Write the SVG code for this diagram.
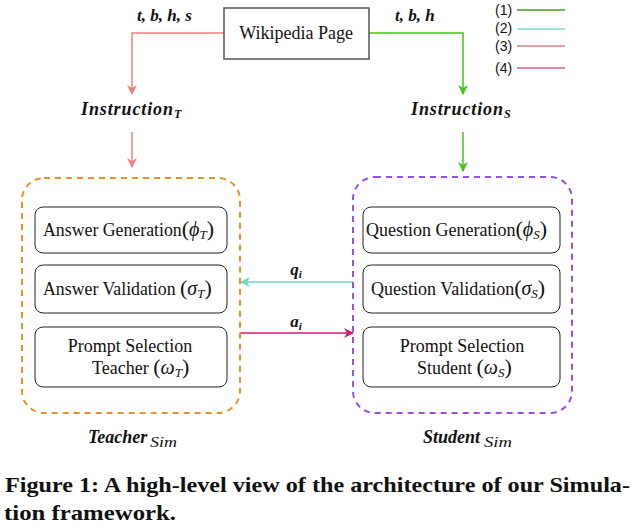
<svg xmlns="http://www.w3.org/2000/svg" width="638" height="529" viewBox="0 0 638 529">
<style>
.t{font-family:"Liberation Serif","Times New Roman",serif;fill:#111}
.m{font-family:"Liberation Serif","Times New Roman",serif;font-style:italic;fill:#111}
.mb{font-family:"Liberation Serif","Times New Roman",serif;font-style:italic;font-weight:bold;fill:#111}
.box{fill:#fff;stroke:#222;stroke-width:1}
.lg{font-family:"Liberation Sans",Arial,sans-serif;font-size:14px;fill:#111}
.cap{font-family:"Liberation Serif","Times New Roman",serif;font-weight:bold;font-size:21px;fill:#111}
</style>
<defs>
<marker id="ar" markerUnits="userSpaceOnUse" markerWidth="10" markerHeight="10" refX="9" refY="5" orient="auto"><path d="M0,0 L10,5 L0,10 L3,5 z" fill="#f08080"/></marker>
<marker id="ag" markerUnits="userSpaceOnUse" markerWidth="10" markerHeight="10" refX="9" refY="5" orient="auto"><path d="M0,0 L10,5 L0,10 L3,5 z" fill="#44c21a"/></marker>
<marker id="at" markerUnits="userSpaceOnUse" markerWidth="10" markerHeight="10" refX="9" refY="5" orient="auto"><path d="M0,0 L10,5 L0,10 L3,5 z" fill="#6ed8bd"/></marker>
<marker id="am" markerUnits="userSpaceOnUse" markerWidth="10" markerHeight="10" refX="9" refY="5" orient="auto"><path d="M0,0 L10,5 L0,10 L3,5 z" fill="#d81b77"/></marker>
</defs>
<rect width="638" height="529" fill="#fff"/>

<g id="connectors" fill="none" stroke-width="1.5">
<path d="M224,33 H132 V94" stroke="#f08080" marker-end="url(#ar)"/>
<path d="M132,132 V167" stroke="#f08080" marker-end="url(#ar)"/>
<path d="M369,33 H463 V94" stroke="#44c21a" marker-end="url(#ag)"/>
<path d="M463,132 V171" stroke="#44c21a" marker-end="url(#ag)"/>
<path d="M353,282 H241" stroke="#6ed8bd" marker-end="url(#at)"/>
<path d="M240,333 H353" stroke="#d81b77" marker-end="url(#am)"/>
<text class="mb" x="137" y="21" font-size="17" stroke="none">t, b, h, s</text>
<text class="mb" x="395" y="21" font-size="17" stroke="none">t, b, h</text>
<text class="mb" x="296" y="275" font-size="17" text-anchor="middle" stroke="none">q<tspan font-size="11" dy="3">i</tspan></text>
<text class="mb" x="296" y="327" font-size="17" text-anchor="middle" stroke="none">a<tspan font-size="11" dy="3">i</tspan></text>
</g>

<g id="wikipedia">
<rect x="224" y="8" width="145" height="51" fill="#fff" stroke="#555" stroke-width="1.5"/>
<text class="t" x="296" y="39" font-size="18" text-anchor="middle">Wikipedia Page</text>
</g>

<g id="legend">
<text class="lg" x="495" y="15">(1)</text>
<text class="lg" x="495" y="33">(2)</text>
<text class="lg" x="495" y="51">(3)</text>
<text class="lg" x="495" y="73">(4)</text>
<line x1="517" y1="10" x2="565" y2="10" stroke="#4a9a1e" stroke-width="1.5"/>
<line x1="517" y1="29" x2="565" y2="29" stroke="#7de0c8" stroke-width="1.5"/>
<line x1="517" y1="46" x2="565" y2="46" stroke="#d88080" stroke-width="1.5"/>
<line x1="517" y1="68" x2="565" y2="68" stroke="#d060a8" stroke-width="1.5"/>
</g>

<g id="instruction-t">
<text class="mb" x="81" y="115" font-size="18" textLength="92" lengthAdjust="spacing">Instruction</text>
<text class="mb" x="174" y="118" font-size="12">T</text>
</g>
<g id="instruction-s">
<text class="mb" x="411" y="115" font-size="18" textLength="92" lengthAdjust="spacing">Instruction</text>
<text class="mb" x="504" y="118" font-size="12">S</text>
</g>

<g id="teacher">
<rect x="22" y="178" width="218" height="235" rx="22" fill="none" stroke="#e8922a" stroke-width="2" stroke-dasharray="6,5"/>
<text class="mb" x="88" y="443" font-size="18">Teacher</text>
<text class="m" x="150" y="447" font-size="14" textLength="27" lengthAdjust="spacingAndGlyphs">Sim</text>
</g>
<g id="answer-generation">
<rect class="box" x="35" y="207" width="192" height="46" rx="8"/>
<text class="t" x="43" y="236" font-size="17.8">Answer Generation<tspan font-size="22">(</tspan><tspan class="m" font-size="20">ϕ</tspan><tspan class="m" font-size="13" dy="3">T</tspan><tspan font-size="22" dy="-3">)</tspan></text>
</g>
<g id="answer-validation">
<rect class="box" x="35" y="265" width="192" height="48" rx="8"/>
<text class="t" x="43" y="295" font-size="17.8">Answer Validation <tspan font-size="22">(</tspan><tspan class="m" font-size="20">σ</tspan><tspan class="m" font-size="13" dy="3">T</tspan><tspan font-size="22" dy="-3">)</tspan></text>
</g>
<g id="prompt-teacher">
<rect class="box" x="35" y="327" width="192" height="60" rx="8"/>
<text class="t" x="130" y="352" font-size="18" text-anchor="middle">Prompt Selection</text>
<text class="t" x="92" y="374" font-size="18">Teacher <tspan font-size="22">(</tspan><tspan class="m" font-size="20">ω</tspan><tspan class="m" font-size="13" dy="3">T</tspan><tspan font-size="22" dy="-3">)</tspan></text>
</g>

<g id="student">
<rect x="353" y="177" width="219" height="236" rx="22" fill="none" stroke="#9a4de8" stroke-width="2" stroke-dasharray="6,5"/>
<text class="mb" x="423" y="443" font-size="18">Student</text>
<text class="m" x="484" y="447" font-size="14" textLength="28" lengthAdjust="spacingAndGlyphs">Sim</text>
</g>
<g id="question-generation">
<rect class="box" x="363" y="207" width="197" height="46" rx="8"/>
<text class="t" x="366" y="236" font-size="18">Question Generation<tspan font-size="22">(</tspan><tspan class="m" font-size="20">ϕ</tspan><tspan class="m" font-size="13" dy="3">S</tspan><tspan font-size="22" dy="-3">)</tspan></text>
</g>
<g id="question-validation">
<rect class="box" x="363" y="265" width="197" height="48" rx="8"/>
<text class="t" x="371" y="295" font-size="18">Question Validation<tspan font-size="22">(</tspan><tspan class="m" font-size="20">σ</tspan><tspan class="m" font-size="13" dy="3">S</tspan><tspan font-size="22" dy="-3">)</tspan></text>
</g>
<g id="prompt-student">
<rect class="box" x="363" y="327" width="197" height="60" rx="8"/>
<text class="t" x="462" y="352" font-size="18" text-anchor="middle">Prompt Selection</text>
<text class="t" x="417" y="374" font-size="18">Student <tspan font-size="22">(</tspan><tspan class="m" font-size="20">ω</tspan><tspan class="m" font-size="13" dy="3">S</tspan><tspan font-size="22" dy="-3">)</tspan></text>
</g>

<g id="caption">
<text class="cap" x="5" y="492" textLength="625" lengthAdjust="spacingAndGlyphs">Figure 1: A high-level view of the architecture of our Simula-</text>
<text class="cap" x="4" y="520" textLength="172" lengthAdjust="spacingAndGlyphs">tion framework.</text>
</g>
</svg>
